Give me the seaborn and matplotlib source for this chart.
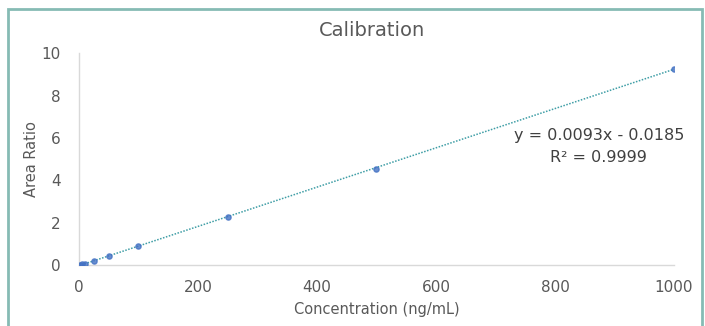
"""Calibration curve with linear trendline."""

import matplotlib.pyplot as plt
import numpy as np
import pandas as pd
import seaborn as sns
from matplotlib.patches import Rectangle

concentration = [1, 5, 10, 25, 50, 100, 250, 500, 1000]
area_ratio = [0.01, 0.03, 0.07, 0.19, 0.42, 0.90, 2.27, 4.55, 9.27]
x_ticks = [0, 200, 400, 600, 800, 1000]
y_ticks = [0, 2, 4, 6, 8, 10]
equation_text = "y = 0.0093x - 0.0185\nR² = 0.9999"

df = pd.DataFrame({"conc": concentration, "ratio": area_ratio})

sns.set_style("white")
plt.rcParams["font.family"] = ["DejaVu Sans"]

text_color = "#595959"

fig = plt.figure(figsize=(7.05, 3.26), dpi=100)
ax = fig.add_axes([0.112, 0.187, 0.844, 0.65])

# outer frame like the original image
fig.patches.append(
    Rectangle((0.012, -0.05), 0.984, 1.022, transform=fig.transFigure,
              fill=False, edgecolor="#86bbb4", linewidth=2)
)

sns.regplot(
    data=df, x="conc", y="ratio", ax=ax, ci=None, truncate=False,
    scatter_kws={"s": 14, "color": "#4472c4", "zorder": 3},
    line_kws={"color": "#3f9ea6", "linestyle": (0, (1, 1)), "linewidth": 1.1},
)

ax.set_xlim(0, 1000)
ax.set_ylim(0, 10)
ax.set_xticks(x_ticks)
ax.set_yticks(y_ticks)
ax.tick_params(axis="both", labelsize=11, colors=text_color, length=0)
ax.tick_params(axis="x", pad=11)
ax.tick_params(axis="y", pad=13)
ax.set_xlabel("Concentration (ng/mL)", fontsize=10.5, color=text_color, labelpad=5)
ax.set_ylabel("Area Ratio", fontsize=10.5, color=text_color, labelpad=2)
ax.set_title("Calibration", fontsize=14, color=text_color, pad=12, x=0.492)

for side in ["top", "right"]:
    ax.spines[side].set_visible(False)
for side in ["left", "bottom"]:
    ax.spines[side].set_color("#d9d9d9")
    ax.spines[side].set_linewidth(1)

ax.text(1017, 5.6, equation_text, ha="right", va="center",
        fontsize=11.5, color="#404040", multialignment="center", linespacing=1.55)

fig.savefig("out.png", dpi=100)
